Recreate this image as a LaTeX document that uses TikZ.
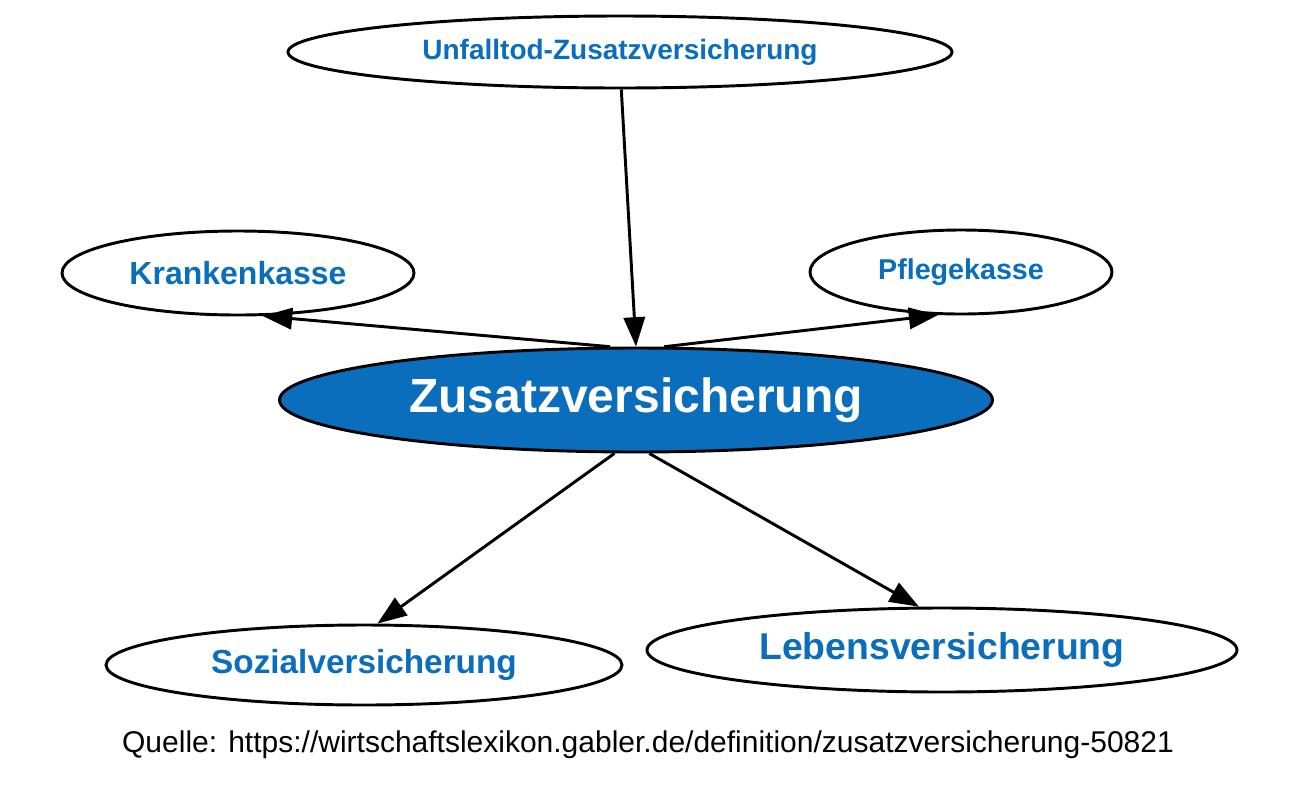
\documentclass[tikz,border=0pt]{standalone}
\usepackage{fontspec}
\setmainfont{Liberation Sans}
\usetikzlibrary{shapes.geometric,arrows.meta}
\definecolor{gblue}{HTML}{0A6EBD}
\begin{document}
\begin{tikzpicture}[x=0.75pt,y=-0.75pt,
  el/.style={ellipse,draw=black,line width=2.2pt,fill=white,text=gblue,font=\bfseries,inner sep=0pt},
  arr/.style={-{Triangle[length=22pt,width=16pt]},line width=2.2pt,black}]
\useasboundingbox (0,0) rectangle (1300,801);
\node[el,minimum width=664*0.75pt,minimum height=72*0.75pt,font=\bfseries\fontsize{21}{24}\selectfont] (u) at (620,52) {Unfalltod-Zusatzversicherung};
\node[el,minimum width=352*0.75pt,minimum height=84*0.75pt,font=\bfseries\fontsize{24}{28}\selectfont] (k) at (238,273) {Krankenkasse};
\node[el,minimum width=302*0.75pt,minimum height=84*0.75pt,font=\bfseries\fontsize{21.5}{26}\selectfont] (p) at (961,272) {Pflegekasse};
\node[el,fill=gblue,text=white,minimum width=713*0.75pt,minimum height=104*0.75pt,font=\bfseries\fontsize{36}{40}\selectfont] (z) at (636,400) {Zusatzversicherung};
\node[el,minimum width=516*0.75pt,minimum height=80*0.75pt,font=\bfseries\fontsize{25}{30}\selectfont] (s) at (364,665) {Sozialversicherung};
\node[el,minimum width=590*0.75pt,minimum height=84*0.75pt,font=\bfseries\fontsize{28}{32}\selectfont] (l) at (942,650) {Lebensversicherung};
\node[font=\fontsize{22.5}{26}\selectfont] (q) at (648,745) {Quelle: https://wirtschaftslexikon.gabler.de/definition/zusatzversicherung-50821};
\draw[arr] (u.-88) -- (z.north);
\draw[arr] (z.116) -- (k.-60);
\draw[arr] (z.62) -- (p.-118);
\draw[arr] (z.-112) -- (s.72);
\draw[arr] (z.-76) -- (l.118);
\end{tikzpicture}
\end{document}
